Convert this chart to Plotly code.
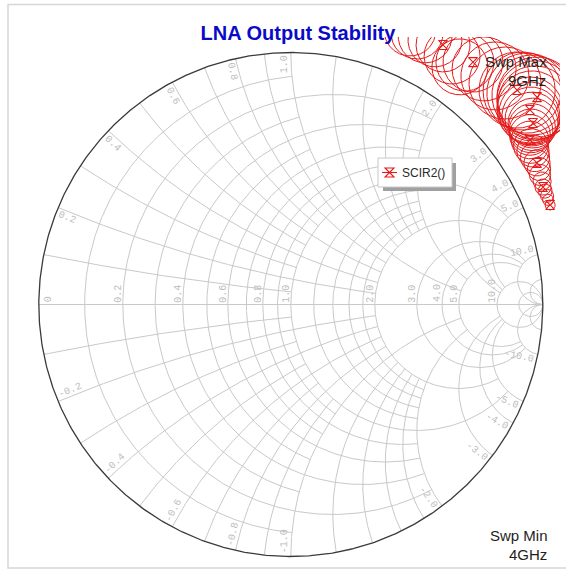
import numpy as np
import plotly.graph_objects as go

# ---------------- data ----------------
# Output stability circles (SCIR2) swept 4 GHz -> 9 GHz
freq_ghz = [4.000, 4.125, 4.250, 4.375, 4.500, 4.625, 4.750, 4.875, 5.000, 5.125,
            5.250, 5.375, 5.500, 5.625, 5.750, 5.875, 6.000, 6.125, 6.250, 6.375,
            6.500, 6.625, 6.750, 6.875, 7.000, 7.125, 7.250, 7.375, 7.500, 7.625,
            7.750, 7.875, 8.000, 8.125, 8.250, 8.375, 8.500, 8.625, 8.750, 8.875, 9.000]
center_re = [1.029, 1.021, 1.017, 1.009, 1.001, 0.997, 0.989, 0.985, 0.977, 0.969,
             0.961, 0.953, 0.949, 0.949, 0.953, 0.957, 0.961, 0.957, 0.953, 0.949,
             0.949, 0.957, 0.969, 0.973, 0.977, 0.957, 0.937, 0.918, 0.898, 0.850,
             0.810, 0.767, 0.723, 0.691, 0.671, 0.640, 0.604, 0.572, 0.533, 0.501, 0.473]
center_im = [0.395, 0.415, 0.431, 0.450, 0.466, 0.490, 0.514, 0.538, 0.562, 0.585,
             0.609, 0.629, 0.653, 0.673, 0.689, 0.704, 0.720, 0.736, 0.748, 0.760,
             0.772, 0.788, 0.800, 0.812, 0.823, 0.831, 0.839, 0.847, 0.851, 0.879,
             0.907, 0.935, 0.962, 0.962, 0.943, 0.986, 1.030, 1.050, 1.066, 1.077, 1.089]
radius = [0.020, 0.022, 0.026, 0.028, 0.032, 0.036, 0.042, 0.046, 0.052, 0.058,
          0.064, 0.069, 0.075, 0.081, 0.087, 0.093, 0.099, 0.107, 0.115, 0.123,
          0.131, 0.139, 0.147, 0.155, 0.159, 0.159, 0.159, 0.155, 0.151, 0.143,
          0.135, 0.127, 0.119, 0.115, 0.111, 0.111, 0.107, 0.107, 0.107, 0.103, 0.103]
# a marker is drawn on every fourth sweep point
marker_every = 4

# Smith chart grid: constant-resistance circles and the |reactance| where each stops
res_values = [0.1, 0.2, 0.3, 0.4, 0.5, 0.6, 0.7, 0.8, 0.9, 1.0,
              1.2, 1.4, 1.6, 1.8, 2.0, 3.0, 4.0, 5.0, 10.0, 20.0]
res_limits = [1, 2, 1, 2, 1, 2, 1, 2, 1, 5,
              2, 2, 2, 2, 5, 10, 10, 10, np.inf, np.inf]
# constant-reactance arcs and the resistance where each stops
react_values = [0.1, 0.2, 0.3, 0.4, 0.5, 0.6, 0.7, 0.8, 0.9, 1.0,
                1.2, 1.4, 1.6, 1.8, 2.0, 3.0, 4.0, 5.0, 10.0, 20.0]
react_limits = [1, 2, 1, 2, 1, 2, 1, 2, 1, 5,
                2, 2, 2, 2, 5, 10, 10, 10, np.inf, np.inf]

res_labels = [0.0, 0.2, 0.4, 0.6, 0.8, 1.0, 2.0, 3.0, 4.0, 5.0, 10.0]
react_labels = [0.2, 0.4, 0.6, 0.8, 1.0, 2.0, 3.0, 4.0, 5.0, 10.0,
                -0.2, -0.4, -0.6, -0.8, -1.0, -2.0, -3.0, -4.0, -5.0, -10.0]

# ---------------- layout geometry (pixels) ----------------
W, H = 566, 571
CX, CY, S = 290.8, 304.5, 252.0          # chart centre and unit radius in px
ML, MR, MT, MB = 10, 6, 37, 3


def px2x(p):
    return (p - CX) / S


def py2y(p):
    return (CY - p) / S


def paperx(p):
    return (p - ML) / (W - ML - MR)


def papery(p):
    return (H - MB - p) / (H - MT - MB)


def gamma(z):
    return (z - 1) / (z + 1)


def lim_angle(v):
    return np.arctan(v) if np.isfinite(v) else np.pi / 2 * 0.9995


# ---------------- grid lines ----------------
gx, gy = [], []
for r, xl in zip(res_values, res_limits):
    a = lim_angle(xl)
    xs = np.tan(np.linspace(-a, a, 401))
    g = gamma(r + 1j * xs)
    gx += list(g.real) + [None]
    gy += list(g.imag) + [None]
for x, rl in zip(react_values, react_limits):
    b = lim_angle(rl)
    rs = np.tan(np.linspace(0, b, 301))
    for sgn in (1, -1):
        g = gamma(rs + 1j * sgn * x)
        gx += list(g.real) + [None]
        gy += list(g.imag) + [None]
# real axis
g = gamma(np.tan(np.linspace(0, np.pi / 2 * 0.9995, 301)) + 0j)
gx += list(g.real) + [None]
gy += list(g.imag) + [None]

# outer circle r = 0
t = np.linspace(0, 2 * np.pi, 721)
ox, oy = np.cos(t), np.sin(t)

fig = go.Figure()
fig.add_trace(go.Scatter(x=gx, y=gy, mode="lines", line=dict(color="#c9c9c9", width=1),
                         hoverinfo="skip", showlegend=False))
fig.add_trace(go.Scatter(x=ox, y=oy, mode="lines", line=dict(color="#3a3a3a", width=1.3),
                         hoverinfo="skip", showlegend=False))

# ---------------- stability circles ----------------
RED = "#e41a1a"
cxs, cys = [], []
for c_re, c_im, rad in zip(center_re, center_im, radius):
    cxs += list(c_re + rad * np.cos(t)) + [None]
    cys += list(c_im + rad * np.sin(t)) + [None]
fig.add_trace(go.Scatter(x=cxs, y=cys, mode="lines", line=dict(color=RED, width=1),
                         hoverinfo="skip", showlegend=False))
fig.add_trace(go.Scatter(x=center_re[::marker_every], y=center_im[::marker_every], mode="markers",
                         marker=dict(symbol="hourglass-open", size=9, color=RED,
                                     line=dict(color=RED, width=1.1)),
                         text=[f"{f:g} GHz" for f in freq_ghz[::marker_every]],
                         name="SCIR2()", showlegend=False))

# ---------------- grid labels ----------------
LBL = dict(family="Liberation Mono, DejaVu Sans Mono, monospace", size=10, color="#bdbdbd")
ann = []
for r in res_labels:
    txt = "0" if r == 0 else f"{r:.1f}"
    half = len(txt) * 3.0
    if r == 0:
        xpos = -1 + 10 / S
    else:
        xpos = gamma(r) - 4.5 / S
    ann.append(dict(x=xpos, y=(2 + half) / S, xref="x", yref="y", text=txt,
                    textangle=-90, showarrow=False, font=LBL))
for x in react_labels:
    txt = f"{x:.1f}"
    th = np.pi - 2 * np.arctan(abs(x))
    if x < 0:
        th = -th
    u = np.array([np.cos(th), np.sin(th)])
    tdir = np.array([-np.sin(th), np.cos(th)]) if x > 0 else np.array([np.sin(th), -np.cos(th)])
    half = len(txt) * 3.0
    pos = u * (1 - (3 + half) / S) + tdir * (6 / S)
    phi = np.degrees(th)
    if abs(abs(phi) - 90) < 1e-6:
        phi = 90
    elif np.cos(th) < 0:
        phi = phi - 180 if phi > 0 else phi + 180
    ann.append(dict(x=pos[0], y=pos[1], xref="x", yref="y", text=txt,
                    textangle=-phi, showarrow=False, font=LBL))

SW = dict(family="Liberation Sans, Arial, sans-serif", size=15, color="#1e1e1e")
for txt, px_r, py_c in [("Swp Max", 549, 61), ("9GHz", 548, 81),
                        ("Swp Min", 550, 535), ("4GHz", 549, 554)]:
    ann.append(dict(x=paperx(px_r), y=papery(py_c), xref="paper", yref="paper",
                    xanchor="right", yanchor="middle", text=txt, showarrow=False, font=SW))

# legend text (box drawn with shapes below)
LEG_L, LEG_T, LEG_R, LEG_B = 378, 158, 452, 187
LEG_CY = (LEG_T + LEG_B) / 2
ann.append(dict(x=paperx(400), y=papery(LEG_CY), xref="paper", yref="paper",
                xanchor="left", yanchor="middle", text="SCIR2()", showarrow=False,
                font=dict(family="Liberation Sans, Arial, sans-serif", size=12, color="#2a2a2a")))

shapes = [
    # outer frame
    dict(type="rect", xref="paper", yref="paper", x0=paperx(8), x1=paperx(590),
         y0=papery(568), y1=papery(4.5), line=dict(color="#d6d6d6", width=1.5),
         fillcolor="rgba(0,0,0,0)", layer="below"),
    # legend shadow
    dict(type="rect", xref="paper", yref="paper", x0=paperx(LEG_L + 5), x1=paperx(LEG_R + 4),
         y0=papery(LEG_B + 4), y1=papery(LEG_T + 5), line=dict(width=0),
         fillcolor="#a0a0a0", layer="above"),
    # legend box
    dict(type="rect", xref="paper", yref="paper", x0=paperx(LEG_L), x1=paperx(LEG_R),
         y0=papery(LEG_B), y1=papery(LEG_T), line=dict(color="#c8c8c8", width=1),
         fillcolor="white", layer="above"),
    # legend line sample
    dict(type="line", xref="paper", yref="paper", x0=paperx(382), x1=paperx(397),
         y0=papery(LEG_CY), y1=papery(LEG_CY), line=dict(color=RED, width=1.1), layer="above"),
    # legend marker sample (hourglass)
    dict(type="path", xref="paper", yref="paper", xsizemode="pixel", ysizemode="pixel",
         xanchor=paperx(389.5), yanchor=papery(LEG_CY),
         path="M-4.5,4.5 L4.5,4.5 L-4.5,-4.5 L4.5,-4.5 Z",
         line=dict(color=RED, width=1.1), fillcolor="rgba(0,0,0,0)", layer="above"),
]

fig.update_layout(
    width=W, height=H,
    margin=dict(l=ML, r=MR, t=MT, b=MB, pad=0),
    paper_bgcolor="white", plot_bgcolor="white",
    xaxis=dict(range=[px2x(ML), px2x(W - MR)], visible=False, fixedrange=True),
    yaxis=dict(range=[py2y(H - MB), py2y(MT)], visible=False, fixedrange=True),
    title=dict(text="<b>LNA Output Stability</b>", xref="paper", x=paperx(298),
               xanchor="center", yref="container", y=1 - 33 / H, yanchor="middle",
               font=dict(family="Liberation Sans, Arial, sans-serif", size=20, color="#0a0ac8")),
    showlegend=False,
    annotations=ann,
    shapes=shapes,
)

fig.write_html("out.html", config={"displayModeBar": False},
               post_script="document.body.style.margin='0px';document.body.style.overflow='hidden';")
